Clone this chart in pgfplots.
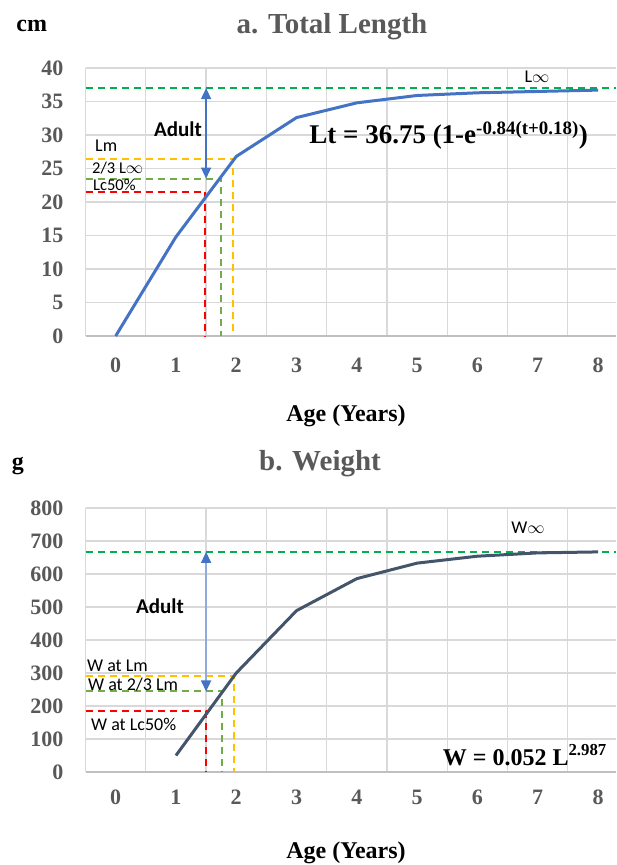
\documentclass[border=0pt]{standalone}
\usepackage{fontspec}
\setmainfont{Liberation Serif}
\newfontfamily\calfont{Carlito}
\usepackage{pgfplots}
\pgfplotsset{compat=1.18}
\usetikzlibrary{arrows.meta}

\definecolor{tickgray}{HTML}{595959}
\definecolor{gridgray}{HTML}{D9D9D9}
\definecolor{axisgray}{HTML}{BFBFBF}
\definecolor{curveblue}{HTML}{4472C4}
\definecolor{curveslate}{HTML}{44546A}
\definecolor{linf}{HTML}{00B050}
\definecolor{lmorange}{HTML}{FFC000}
\definecolor{twothird}{HTML}{70AD47}
\definecolor{lcred}{HTML}{FF0000}
\definecolor{arrowlight}{HTML}{8FAADC}

\pgfplotsset{
  growth/.style={
    scale only axis, width=530.5pt, xmin=-0.5, xmax=8.298,
    axis x line*=bottom, axis y line*=left,
    x axis line style={axisgray, line width=1.2pt, -},
    y axis line style={gridgray, line width=1.2pt, -},
    major tick length=0pt, minor tick length=0pt,
    xtick={0,...,8},
    minor xtick={0.5,1.5,...,7.5},
    xminorgrids, ymajorgrids,
    minor grid style={gridgray, line width=1.2pt},
    major grid style={gridgray, line width=1.2pt},
    /pgf/number format/assume math mode=true,
    tick label style={font=\fontsize{22}{22}\selectfont\bfseries, text=tickgray},
    yticklabel style={inner sep=0pt, xshift=-22pt},
  },
  refline/.style={dash pattern=on 7pt off 5pt, line width=2pt},
}
\tikzset{
  twohead/.style={{Triangle[width=10pt,length=11pt,color=curveblue]}-{Triangle[width=10pt,length=11pt,color=curveblue]}},
  note/.style={font=\calfont\fontsize{18}{18}\selectfont, inner sep=0pt},
  smallnote/.style={font=\calfont\fontsize{16.5}{16.5}\selectfont, inner sep=0pt},
}

\begin{document}
\begin{tikzpicture}
\useasboundingbox (0,0) rectangle (616pt,-865pt);

% a. total length
\begin{axis}[growth,
  at={(85.5pt,-336pt)}, anchor=south west, height=268pt,
  ymin=0, ymax=40, ytick={0,5,...,40},
  xticklabel style={anchor=north, inner sep=0pt, yshift=-22pt},
]
\addplot[refline, linf] coordinates {(-0.5,37) (8.298,37)};
\addplot[refline, lmorange] coordinates {(-0.5,26.4) (1.94,26.4) (1.94,0)};
\addplot[refline, twothird] coordinates {(-0.5,23.5) (1.75,23.5) (1.75,0)};
\addplot[refline, lcred] coordinates {(-0.5,21.5) (1.49,21.5) (1.49,0)};
\addplot[curveblue, line width=1.5pt, twohead] coordinates {(1.5,23.5) (1.5,37)};
\addplot[curveblue, line width=3pt] coordinates {
  (0,0) (1,14.8) (2,26.8) (3,32.6) (4,34.8) (5,35.9) (6,36.3) (7,36.5) (8,36.7)
};
\end{axis}

% b. weight
\begin{axis}[growth,
  at={(85.5pt,-772pt)}, anchor=south west, height=264pt,
  ymin=0, ymax=800, ytick={0,100,...,800},
  xticklabel style={anchor=north, inner sep=0pt, yshift=-17.5pt},
]
\addplot[refline, linf] coordinates {(-0.5,667) (8.298,667)};
\addplot[refline, lmorange] coordinates {(-0.5,291) (1.96,291) (1.96,0)};
\addplot[refline, twothird] coordinates {(-0.5,244) (1.76,244) (1.76,0)};
\addplot[refline, lcred] coordinates {(-0.5,184) (1.5,184) (1.5,0)};
\addplot[arrowlight, line width=1.5pt, twohead] coordinates {(1.5,244) (1.5,667)};
\addplot[curveslate, line width=3pt] coordinates {
  (1,50) (2,300) (3,489) (4,586) (5,633) (6,654) (7,664) (8,667)
};
\end{axis}

% titles and axis labels
\node[anchor=base, inner sep=0pt, font=\fontsize{24}{24}\selectfont\bfseries] at (31.7pt,-31.7pt) {cm};
\node[anchor=base, inner sep=0pt, font=\fontsize{29}{29}\selectfont\bfseries, text=tickgray] at (332pt,-33pt) {a. Total Length};
\node[anchor=base, inner sep=0pt, font=\fontsize{24}{24}\selectfont\bfseries] at (346pt,-421pt) {Age (Years)};
\node[anchor=base, inner sep=0pt, font=\fontsize{24}{24}\selectfont\bfseries] at (18pt,-469pt) {g};
\node[anchor=base, inner sep=0pt, font=\fontsize{29}{29}\selectfont\bfseries, text=tickgray] at (320pt,-470pt) {b. Weight};
\node[anchor=base, inner sep=0pt, font=\fontsize{24}{24}\selectfont\bfseries] at (346pt,-858pt) {Age (Years)};

% annotations, length chart
\node[note, anchor=base] at (537pt,-82.5pt) {L$\infty$};
\node[note, anchor=base, font=\calfont\bfseries\fontsize{21}{21}\selectfont] at (178pt,-136.5pt) {Adult};
\node[note, anchor=base west] at (95pt,-151.7pt) {Lm};
\node[smallnote, anchor=base west] at (92pt,-173.5pt) {2/3 L$\infty$};
\node[smallnote, anchor=base west] at (93pt,-190.5pt) {Lc50\%};
\node[anchor=base east, inner sep=0pt, font=\fontsize{27}{27}\selectfont\bfseries] at (588pt,-143.3pt)
  {Lt = 36.75 (1-e\textsuperscript{-0.84(t+0.18)})};

% annotations, weight chart
\node[note, anchor=base] at (528pt,-533pt) {W$\infty$};
\node[note, anchor=base, font=\calfont\bfseries\fontsize{21}{21}\selectfont] at (160pt,-613pt) {Adult};
\node[note, anchor=base west] at (87pt,-671.5pt) {W at Lm};
\node[note, anchor=base west] at (88pt,-690.5pt) {W at 2/3 Lm};
\node[note, anchor=base west] at (91pt,-730.5pt) {W at Lc50\%};
\node[anchor=base east, inner sep=0pt, font=\fontsize{24}{24}\selectfont\bfseries] at (607pt,-765pt)
  {W = 0.052 L\textsuperscript{2.987}};
\end{tikzpicture}
\end{document}
